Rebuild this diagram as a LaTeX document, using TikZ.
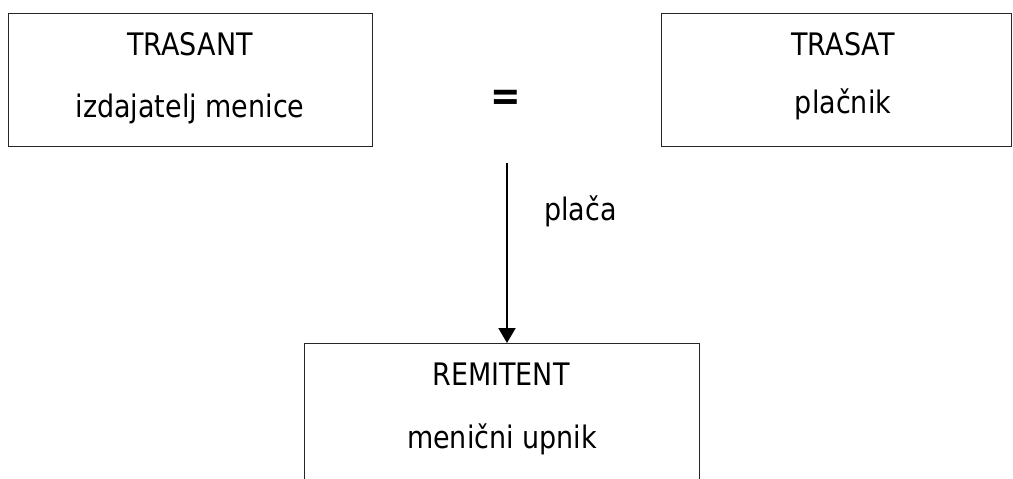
\documentclass[tikz,border=0pt]{standalone}
\usepackage{fontspec}
\setmainfont[FakeStretch=0.87]{DejaVu Sans}
\usetikzlibrary{arrows.meta}
\begin{document}
\begin{tikzpicture}[x=1pt,y=-1pt,
  box/.style={draw=black!85, line width=1.2pt, inner sep=0pt, anchor=north west},
  lbl/.style={inner sep=0pt, anchor=base, font=\fontsize{31}{37}\selectfont},
  conn/.style={line width=2pt, -{Triangle[length=15pt,width=17pt]}}]
\clip (0,0) rectangle (1013,479);
\fill[white] (0,0) rectangle (1013,479);
% boxes
\node[box, minimum width=364pt, minimum height=133pt] (trasant) at (8,13) {};
\node[box, minimum width=350pt, minimum height=133pt] (trasat) at (661,13) {};
\node[box, minimum width=395pt, minimum height=180pt] (remitent) at (304,343) {};
% texts
\node[lbl] (t1) at (190,56) {TRASANT};
\node[lbl] (t2) at (190,117) {izdajatelj menice};
\node[lbl] (t3) at (843,56) {TRASAT};
\node[lbl] (t4) at (843,113) {plačnik};
\node[lbl] (t5) at (501,385) {REMITENT};
\node[lbl] (t6) at (502,448) {menični upnik};
\node[lbl, anchor=base west] (placa) at (544,220) {plača};
\node[inner sep=0pt, font=\fontsize{42}{48}\selectfont\bfseries] (eq) at (506,100) {=};
% connector
\coordinate (src) at (507,163);
\draw[conn] (src) -- (remitent.north -| src);
\end{tikzpicture}
\end{document}
